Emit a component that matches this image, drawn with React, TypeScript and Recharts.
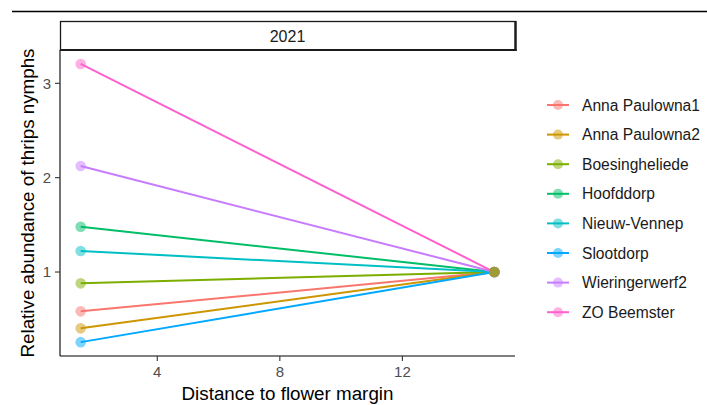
import React from 'react';
import { ComposedChart, Line, Scatter, XAxis, YAxis } from 'recharts';

// Field sites (facet 2021) and their ggplot-style hue colours
const sites = [
  'Anna Paulowna1',
  'Anna Paulowna2',
  'Boesingheliede',
  'Hoofddorp',
  'Nieuw-Vennep',
  'Slootdorp',
  'Wieringerwerf2',
  'ZO Beemster',
];
const siteColors = ['#F8766D', '#CD9600', '#7CAE00', '#00BE67', '#00BFC4', '#00A9FF', '#C77CFF', '#FF61CC'];

// Sampling distances (m) from the flower margin
const distances = [1.5, 15];

// Relative abundance of thrips nymphs at each distance
const abundanceNear = [0.583, 0.403, 0.88, 1.48, 1.223, 0.257, 2.123, 3.205];
const abundanceFar = [1, 1, 1, 1, 1, 1, 1, 1];

// Order in which the point layer is painted (row order of the source table)
const pointDrawOrder = [0, 3, 4, 5, 6, 7, 1, 2];

const xTicks = [4, 8, 12];
const yTicks = [1, 2, 3];
const facetLabel = '2021';
const xTitle = 'Distance to flower margin';
const yTitle = 'Relative abundance of thrips nymphs';

const FONT = '"Liberation Sans", Arial, Helvetica, sans-serif';
const W = 707;
const H = 405;
const PLOT_LEFT = 60;
const PLOT_RIGHT = 515;
const PLOT_TOP = 50;
const PLOT_BOTTOM = 356;

const seriesData = sites.map((_, i) =>
  distances.map((d, k) => ({ distance: d, abundance: k === 0 ? abundanceNear[i] : abundanceFar[i] }))
);

const tickStyle = { fill: '#4D4D4D', fontSize: 15, fontFamily: FONT };

function Legend() {
  const top = 105;
  const step = 29.6;
  return (
    <g>
      {sites.map((s, i) => {
        const cy = top + i * step;
        return (
          <g key={s}>
            <line x1={547} x2={569} y1={cy} y2={cy} stroke={siteColors[i]} strokeWidth={2} />
            <circle cx={558} cy={cy} r={5} fill={siteColors[i]} fillOpacity={0.5} />
            <text x={582} y={cy} dy="0.36em" fontSize={15.6} fill="#1A1A1A" fontFamily={FONT}>
              {s}
            </text>
          </g>
        );
      })}
    </g>
  );
}

export default function App() {
  return (
    <div style={{ position: 'absolute', left: 0, top: 0, width: W, height: H, background: '#fff', fontFamily: FONT }}>
      <ComposedChart
        width={W}
        height={H}
        margin={{ top: PLOT_TOP, right: W - PLOT_RIGHT, bottom: 0, left: 0 }}
      >
        <XAxis
          dataKey="distance"
          type="number"
          domain={[0.825, 15.675]}
          ticks={xTicks}
          allowDataOverflow
          height={H - PLOT_BOTTOM}
          tickSize={5}
          tickMargin={5}
          tick={tickStyle}
          axisLine={{ stroke: '#000', strokeWidth: 1.1 }}
          tickLine={{ stroke: '#333', strokeWidth: 1.1 }}
          label={(props: any) => {
            const vb = props.viewBox || { x: PLOT_LEFT, y: PLOT_BOTTOM, width: PLOT_RIGHT - PLOT_LEFT };
            return (
              <text x={vb.x + vb.width / 2} y={vb.y + 44} textAnchor="middle" fontSize={18.8} fill="#000" fontFamily={FONT}>
                {xTitle}
              </text>
            );
          }}
        />
        <YAxis
          type="number"
          domain={[0.11, 3.353]}
          ticks={yTicks}
          allowDataOverflow
          width={PLOT_LEFT}
          tickSize={5}
          tickMargin={4}
          tick={tickStyle}
          axisLine={{ stroke: '#000', strokeWidth: 1.1 }}
          tickLine={{ stroke: '#333', strokeWidth: 1.1 }}
          label={(props: any) => {
            const vb = props.viewBox || { x: 0, y: PLOT_TOP, height: PLOT_BOTTOM - PLOT_TOP };
            const cy = vb.y + vb.height / 2;
            return (
              <text
                transform={`translate(34, ${cy}) rotate(-90)`}
                textAnchor="middle"
                fontSize={18.8}
                fill="#000"
                fontFamily={FONT}
              >
                {yTitle}
              </text>
            );
          }}
        />
        {sites.map((s, i) => (
          <Line
            key={`line-${s}`}
            data={seriesData[i]}
            dataKey="abundance"
            type="linear"
            stroke={siteColors[i]}
            strokeWidth={2}
            dot={false}
            activeDot={false}
            isAnimationActive={false}
          />
        ))}
        {pointDrawOrder.map((i) => (
          <Scatter
            key={`pt-${sites[i]}`}
            data={seriesData[i]}
            dataKey="abundance"
            fill={siteColors[i]}
            isAnimationActive={false}
            shape={(p: any) => <circle cx={p.cx} cy={p.cy} r={5.3} fill={siteColors[i]} fillOpacity={0.5} />}
          />
        ))}
      </ComposedChart>
      <svg width={W} height={H} style={{ position: 'absolute', left: 0, top: 0, pointerEvents: 'none' }}>
        <line x1={12} x2={W} y1={11.5} y2={11.5} stroke="#000" strokeWidth={1.3} />
        <rect x={60.5} y={21.5} width={455} height={28.5} fill="#fff" stroke="#1A1A1A" strokeWidth={1.3} />
        <line x1={515.5} x2={515.5} y1={21} y2={51} stroke="#1A1A1A" strokeWidth={2.4} />
        <line x1={60} x2={516.5} y1={50} y2={50} stroke="#1A1A1A" strokeWidth={2.2} />
        <text x={287.5} y={36} dy="0.36em" textAnchor="middle" fontSize={16} fill="#1A1A1A" fontFamily={FONT}>
          {facetLabel}
        </text>
        <Legend />
      </svg>
    </div>
  );
}
